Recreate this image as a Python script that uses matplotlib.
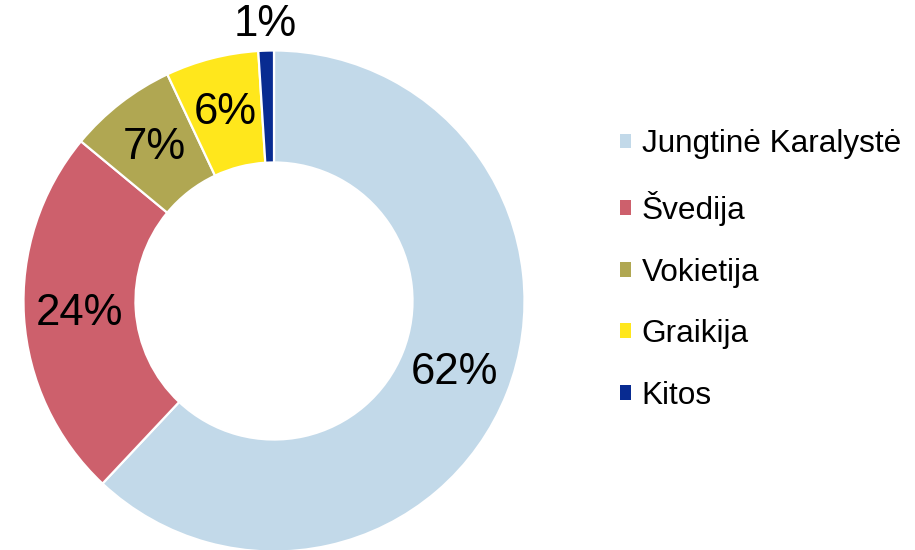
import numpy as np
import matplotlib
matplotlib.use("Agg")
import matplotlib.pyplot as plt

plt.rcParams['font.family'] = ['Liberation Sans', 'DejaVu Sans']

# data
countries = ['Jungtinė Karalystė', 'Švedija', 'Vokietija', 'Graikija', 'Kitos']
shares = [62, 24, 7, 6, 1]
colors = ['#C2D9E9', '#CD606C', '#B0A752', '#FFE71C', '#082B91']

W, H = 915, 550
fig = plt.figure(figsize=(W / 100, H / 100), dpi=100)

# donut: centre (274, 301) px, outer radius ~250 px
cx, cy, R = 274, 301, 250.5
ax = fig.add_axes([(cx - R) / W, (H - cy - R) / H, 2 * R / W, 2 * R / H])

ring = 0.447
wedges, _ = ax.pie(shares, colors=colors, startangle=90, counterclock=False,
                   radius=1.0,
                   wedgeprops=dict(width=ring, edgecolor='white', linewidth=1.6))
ax.set_xlim(-1, 1)
ax.set_ylim(-1, 1)
ax.set_aspect('equal')
ax.axis('off')

# percentage labels, the tiny slice is labelled outside the ring
for w, v in zip(wedges, shares):
    mid = np.deg2rad((w.theta1 + w.theta2) / 2)
    r = 1 - ring / 2 if v >= 5 else 1.105
    ax.text(r * np.cos(mid), r * np.sin(mid), f'{v}%', ha='center', va='center',
            fontsize=31.5, color='black', clip_on=False)

leg = fig.legend(wedges, countries, loc='center left',
                 bbox_to_anchor=(620 / W, 1 - 270 / H),
                 frameon=False, fontsize=22.7, handlelength=0.34, handleheight=0.34,
                 handletextpad=0.35, labelspacing=1.0, borderpad=0, borderaxespad=0)
for h in leg.legend_handles:
    h.set_linewidth(0)

fig.savefig('out.png', dpi=100)
